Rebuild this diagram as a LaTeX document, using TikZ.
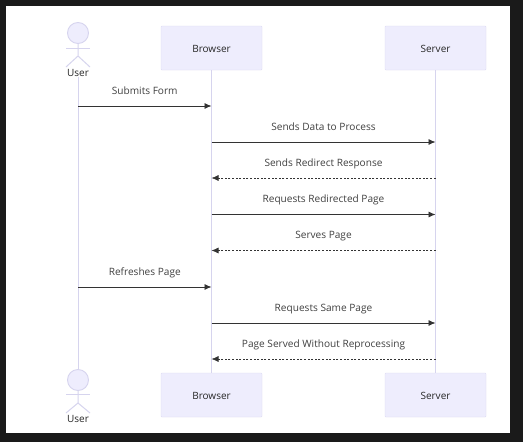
\documentclass[tikz,border=0pt]{standalone}
\usepackage{fontspec}
\setmainfont{Open Sans}
\usepackage{xcolor}
\usetikzlibrary{arrows.meta, positioning, calc}
\definecolor{cPage}{HTML}{1A1A1A}
\definecolor{cBox}{HTML}{EEEDFD}
\definecolor{cEdge}{HTML}{DEDCF4}
\definecolor{cLife}{HTML}{D6D4EE}
\definecolor{cMsg}{HTML}{333333}
\tikzstyle{box}   = [rectangle, rounded corners=1pt, draw=cEdge, fill=cBox, minimum width=101pt, minimum height=44pt, inner sep=0pt, text height=8pt, text depth=0pt, text=black!85, font=\fontsize{10pt}{12pt}\selectfont]
\tikzstyle{head}  = [circle, draw=cLife, fill=cBox, line width=0.9pt, minimum size=21pt, inner sep=0pt]
\tikzstyle{who}   = [inner sep=0pt, text=black!85, font=\fontsize{10pt}{12pt}\selectfont]
\tikzstyle{life}  = [draw=cLife, line width=1pt]
\tikzstyle{call}  = [draw=cMsg, line width=0.8pt, -{Latex[length=7pt,width=6pt]}]
\tikzstyle{back}  = [draw=cMsg, line width=0.7pt, dash pattern=on 2pt off 1.6pt, -{Latex[length=7pt,width=6pt]}]
\tikzstyle{msg}   = [above=9pt, inner sep=0pt, text height=7.5pt, text depth=2.5pt, text=black!75, font=\fontsize{10.1pt}{12pt}\selectfont]
\begin{document}
\begin{tikzpicture}[x=1pt, y=-1pt]
\useasboundingbox (0,0) rectangle (523,442);
\fill [cPage] (0,0) rectangle (523,442);
\fill [white] (6,6) rectangle (510,433);

% actors
\node (userHead) [head] at (78,33) {};
\coordinate (userNeck) at (78,56);
\node (userName) [who] at (78,72.7) {User};
\node (browser) [box] at (211.5,48) {Browser};
\node (server) [box] at (435.5,48) {Server};
\node (userFoot) [head] at (78,380) {};
\coordinate (userHip) at (78,403);
\node (userEnd) [who] at (78,418.7) {User};
\node (browserEnd) [box] at (211.5,395) {Browser};
\node (serverEnd) [box] at (435.5,395) {Server};

% stick figures
\draw [life] (userHead) -- (userNeck) -- +(-12,11) (userNeck) -- +(12,11);
\draw [life] (66,48.5) -- (90,48.5);
\draw [life] (userFoot) -- (userHip) -- +(-12,10) (userHip) -- +(12,10);
\draw [life] (66,394.7) -- (90,394.7);

% lifelines
\draw [life] (userName) -- (userFoot);
\draw [life] (browser) -- (browserEnd);
\draw [life] (server) -- (serverEnd);

% message ends
\coordinate (u1) at (78,106);
\coordinate (b1) at (211.5,106);
\coordinate (b2) at (211.5,142);
\coordinate (s2) at (435.5,142);
\coordinate (s3) at (435.5,178);
\coordinate (b3) at (211.5,178);
\coordinate (b4) at (211.5,214.5);
\coordinate (s4) at (435.5,214.5);
\coordinate (s5) at (435.5,250.5);
\coordinate (b5) at (211.5,250.5);
\coordinate (u6) at (78,287);
\coordinate (b6) at (211.5,287);
\coordinate (b7) at (211.5,323);
\coordinate (s7) at (435.5,323);
\coordinate (s8) at (435.5,359);
\coordinate (b8) at (211.5,359);

\draw [call] (u1) -- node[msg]{Submits Form} (b1);
\draw [call] (b2) -- node[msg]{Sends Data to Process} (s2);
\draw [back] (s3) -- node[msg]{Sends Redirect Response} (b3);
\draw [call] (b4) -- node[msg]{Requests Redirected Page} (s4);
\draw [back] (s5) -- node[msg]{Serves Page} (b5);
\draw [call] (u6) -- node[msg]{Refreshes Page} (b6);
\draw [call] (b7) -- node[msg]{Requests Same Page} (s7);
\draw [back] (s8) -- node[msg]{Page Served Without Reprocessing} (b8);
\end{tikzpicture}
\end{document}
